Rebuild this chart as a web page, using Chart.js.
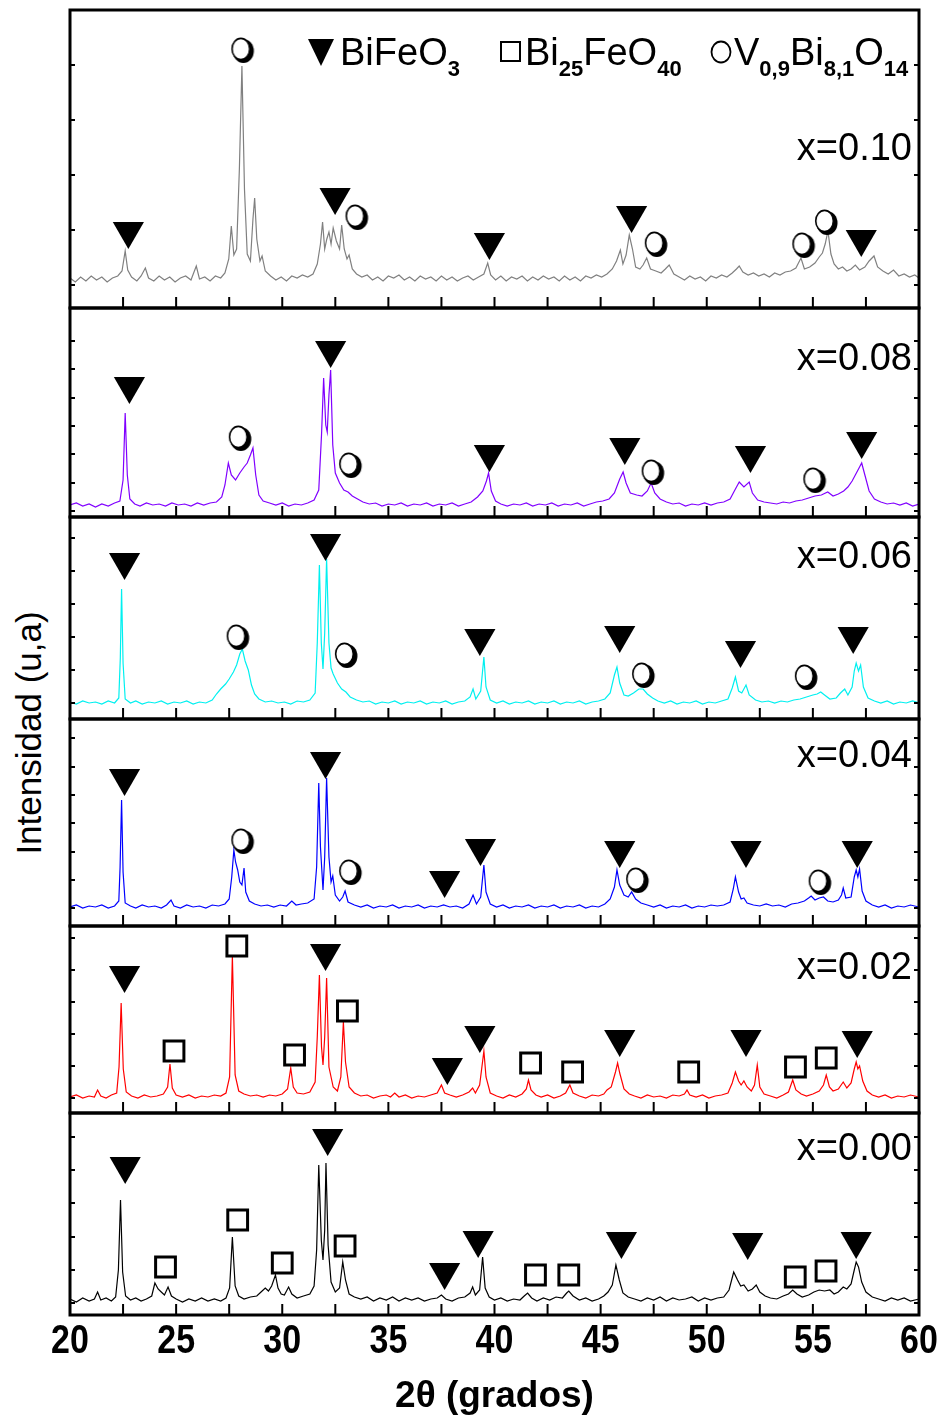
<!DOCTYPE html>
<html>
<head>
<meta charset="utf-8">
<script src="https://cdn.jsdelivr.net/npm/chart.js@4.4.1/dist/chart.umd.min.js"></script>
<style>
  body { margin: 0; background: #fff; }
  #fig { position: relative; width: 947px; height: 1418px; overflow: hidden; background: #fff; }
  #fig canvas { position: absolute; }
  #ylab {
    position: absolute; left: 29px; top: 733px;
    transform: translate(-50%, -50%) rotate(-90deg);
    font: 35px "Liberation Sans", Arial, sans-serif; color: #000; white-space: nowrap;
  }
</style>
</head>
<body>
<div id="fig"><div id="ylab">Intensidad (u,a)</div></div>
<script>
// ============================================
// XRD patterns of BiFe(1-x)VxO3, stacked panels
// intensity = counts above background (u.a.)
// ============================================

const sampleNames = ['x=0.10', 'x=0.08', 'x=0.06', 'x=0.04', 'x=0.02', 'x=0.00'];
const xTickLabels = [20, 25, 30, 35, 40, 45, 50, 55, 60];
const xTickMarks = [22.5, 25, 27.5, 30, 32.5, 35, 37.5, 40, 42.5, 45, 47.5, 50, 52.5, 55, 57.5];

// [2theta, intensity]
const scan010 = [[20.0,1],[20.25,-3],[20.5,2],[20.75,-2],[21.0,3],[21.25,-1],[21.5,2],[21.75,-3],[22.0,1],[22.25,3],[22.45,8],[22.6,28],[22.72,9],[22.9,2],[23.15,-2],[23.35,3],[23.55,11],[23.7,1],[23.95,-2],[24.2,3],[24.45,-1],[24.7,2],[24.95,-3],[25.2,1],[25.45,3],[25.7,-1],[25.95,13],[26.1,0],[26.35,2],[26.6,-2],[26.85,3],[27.1,1],[27.3,6],[27.48,20],[27.6,53],[27.72,24],[27.85,30],[27.98,110],[28.1,213],[28.22,90],[28.35,25],[28.5,18],[28.62,60],[28.7,81],[28.8,40],[28.95,18],[29.05,23],[29.2,8],[29.45,3],[29.7,-1],[29.95,2],[30.2,-2],[30.45,3],[30.7,1],[30.95,4],[31.2,2],[31.45,5],[31.65,15],[31.8,35],[31.9,57],[32.0,30],[32.1,40],[32.2,47],[32.3,35],[32.4,51],[32.55,38],[32.7,30],[32.8,54],[32.92,30],[33.05,20],[33.15,24],[33.3,10],[33.5,5],[33.75,2],[34.0,4],[34.25,-1],[34.5,2],[34.75,-2],[35.0,3],[35.25,1],[35.5,4],[35.75,-1],[36.0,2],[36.25,-2],[36.5,3],[36.75,0],[37.0,2],[37.25,-2],[37.5,3],[37.75,-1],[38.0,2],[38.25,-2],[38.5,1],[38.75,3],[39.0,-1],[39.25,2],[39.5,5],[39.68,16],[39.82,4],[40.05,-1],[40.3,3],[40.55,-2],[40.8,2],[41.05,0],[41.3,3],[41.55,-2],[41.8,2],[42.05,-1],[42.3,3],[42.55,0],[42.8,2],[43.05,-2],[43.3,3],[43.55,-1],[43.8,2],[44.05,-2],[44.3,3],[44.55,1],[44.8,4],[45.05,2],[45.3,5],[45.55,10],[45.75,18],[45.93,29],[46.05,15],[46.2,24],[46.35,44],[46.5,30],[46.65,12],[46.85,10],[47.0,14],[47.17,21],[47.35,10],[47.6,8],[47.85,6],[48.05,10],[48.23,14],[48.45,5],[48.7,2],[48.95,-1],[49.2,3],[49.45,0],[49.7,2],[49.95,-2],[50.2,3],[50.45,1],[50.7,4],[50.95,2],[51.2,6],[51.4,10],[51.53,13],[51.7,7],[51.95,4],[52.2,6],[52.45,3],[52.7,5],[52.95,2],[53.2,6],[53.45,4],[53.7,7],[53.95,8],[54.2,11],[54.44,21],[54.6,10],[54.85,12],[55.1,16],[55.3,22],[55.45,26],[55.58,35],[55.71,48],[55.85,25],[56.0,15],[56.2,10],[56.4,12],[56.6,8],[56.8,10],[57.0,14],[57.2,9],[57.45,12],[57.65,18],[57.88,23],[58.05,12],[58.3,8],[58.55,5],[58.8,9],[59.05,3],[59.3,5],[59.55,2],[59.8,4],[60.0,1]];

const scan008 = [[20.0,0],[20.3,2],[20.6,-1],[20.9,1],[21.2,-2],[21.5,1],[21.8,-1],[22.1,2],[22.35,4],[22.5,25],[22.6,92],[22.7,30],[22.82,6],[23.05,1],[23.3,-1],[23.6,2],[23.9,0],[24.2,1],[24.5,-1],[24.8,2],[25.1,0],[25.4,1],[25.7,-1],[26.0,2],[26.3,0],[26.6,2],[26.9,3],[27.15,8],[27.3,20],[27.46,42],[27.6,30],[27.8,25],[28.0,32],[28.2,38],[28.35,42],[28.5,50],[28.62,57],[28.75,30],[28.9,10],[29.1,4],[29.4,2],[29.7,0],[30.0,2],[30.3,-1],[30.6,1],[30.9,0],[31.2,2],[31.5,5],[31.72,15],[31.85,70],[31.95,127],[32.05,80],[32.12,73],[32.2,110],[32.28,135],[32.38,60],[32.5,32],[32.7,22],[32.9,15],[33.1,13],[33.3,9],[33.55,6],[33.8,3],[34.1,1],[34.4,2],[34.7,-1],[35.0,1],[35.3,0],[35.6,2],[35.9,-1],[36.2,1],[36.5,0],[36.8,2],[37.1,-1],[37.4,1],[37.7,0],[38.0,2],[38.3,-1],[38.6,1],[38.9,3],[39.2,8],[39.45,14],[39.62,24],[39.72,32],[39.85,14],[40.05,4],[40.3,1],[40.6,-1],[40.9,1],[41.2,0],[41.5,2],[41.8,-1],[42.1,1],[42.4,0],[42.7,2],[43.0,-1],[43.3,1],[43.6,0],[43.9,2],[44.2,-1],[44.5,1],[44.8,3],[45.1,4],[45.4,6],[45.65,12],[45.9,26],[46.06,33],[46.2,22],[46.4,12],[46.7,10],[46.95,9],[47.2,14],[47.38,22],[47.55,12],[47.8,6],[48.1,3],[48.4,1],[48.7,2],[49.0,-1],[49.3,1],[49.6,0],[49.9,2],[50.2,0],[50.5,2],[50.8,3],[51.1,6],[51.3,14],[51.53,23],[51.75,18],[52.0,23],[52.15,12],[52.4,5],[52.7,3],[53.0,2],[53.3,1],[53.6,3],[53.9,2],[54.2,4],[54.5,5],[54.8,7],[55.1,9],[55.4,10],[55.7,13],[55.95,9],[56.2,11],[56.45,14],[56.65,18],[56.85,24],[57.05,32],[57.2,38],[57.3,42],[57.45,30],[57.65,14],[57.9,6],[58.2,3],[58.5,1],[58.8,2],[59.1,0],[59.4,2],[59.7,-1],[60.0,1]];

const scan006 = [[20.0,1],[20.3,-1],[20.6,2],[20.9,0],[21.2,1],[21.5,-1],[21.8,2],[22.1,0],[22.3,5],[22.37,45],[22.43,114],[22.5,40],[22.6,4],[22.85,0],[23.1,2],[23.4,-1],[23.7,1],[24.0,0],[24.3,2],[24.6,-1],[24.9,1],[25.2,0],[25.5,2],[25.8,-1],[26.1,1],[26.4,0],[26.7,3],[26.9,9],[27.1,14],[27.33,19],[27.5,24],[27.7,31],[27.85,38],[28.0,49],[28.12,54],[28.25,42],[28.4,33],[28.55,18],[28.7,9],[28.9,4],[29.2,1],[29.5,2],[29.8,0],[30.1,1],[30.4,-1],[30.7,2],[31.0,1],[31.3,3],[31.55,10],[31.65,60],[31.75,138],[31.84,60],[31.92,34],[32.0,70],[32.09,144],[32.2,60],[32.3,35],[32.4,29],[32.6,20],[32.8,14],[33.0,11],[33.2,6],[33.5,3],[33.8,1],[34.1,2],[34.4,-1],[34.7,1],[35.0,0],[35.3,2],[35.6,-1],[35.9,1],[36.2,0],[36.5,2],[36.8,-1],[37.1,1],[37.4,0],[37.7,2],[38.0,-1],[38.3,1],[38.6,2],[38.85,6],[38.99,14],[39.12,4],[39.35,12],[39.5,46],[39.6,16],[39.8,3],[40.1,0],[40.4,2],[40.7,-1],[41.0,1],[41.3,0],[41.6,2],[41.9,-1],[42.2,1],[42.5,0],[42.8,2],[43.1,-1],[43.4,1],[43.7,0],[44.0,2],[44.3,-1],[44.6,1],[44.9,2],[45.2,4],[45.45,10],[45.65,28],[45.77,36],[45.9,20],[46.1,8],[46.3,7],[46.55,10],[46.8,14],[47.0,14],[47.2,9],[47.45,5],[47.7,2],[48.0,0],[48.3,2],[48.6,-1],[48.9,1],[49.2,0],[49.5,2],[49.8,-1],[50.1,1],[50.4,0],[50.7,2],[51.0,4],[51.2,15],[51.35,26],[51.5,12],[51.65,10],[51.85,18],[52.0,8],[52.3,3],[52.6,1],[52.9,2],[53.2,0],[53.5,2],[53.8,1],[54.1,3],[54.4,4],[54.7,6],[55.0,8],[55.2,9],[55.37,11],[55.55,8],[55.8,4],[56.1,5],[56.3,10],[56.5,14],[56.65,8],[56.85,16],[56.95,32],[57.04,40],[57.15,32],[57.25,38],[57.38,16],[57.6,5],[57.9,2],[58.2,0],[58.5,2],[58.8,-1],[59.1,1],[59.4,0],[59.7,2],[60.0,0]];

const scan004 = [[20.0,0],[20.3,2],[20.6,-1],[20.9,1],[21.2,0],[21.5,2],[21.8,-1],[22.1,1],[22.3,6],[22.36,40],[22.43,107],[22.5,35],[22.6,4],[22.85,1],[23.1,-1],[23.4,2],[23.7,0],[24.0,1],[24.3,-1],[24.55,2],[24.76,7],[24.9,1],[25.2,-1],[25.5,2],[25.8,0],[26.1,1],[26.4,-1],[26.7,2],[27.0,1],[27.3,3],[27.5,8],[27.62,30],[27.72,57],[27.8,45],[27.9,37],[28.0,25],[28.1,22],[28.2,39],[28.28,15],[28.45,6],[28.7,3],[29.0,1],[29.3,2],[29.6,0],[29.9,2],[30.2,1],[30.45,6],[30.65,2],[30.9,3],[31.2,4],[31.5,8],[31.62,40],[31.72,124],[31.8,60],[31.92,17],[32.0,50],[32.09,129],[32.2,50],[32.3,25],[32.38,31],[32.5,12],[32.7,6],[32.85,10],[32.96,16],[33.1,5],[33.4,2],[33.7,0],[34.0,2],[34.3,-1],[34.6,1],[34.9,0],[35.2,2],[35.5,-1],[35.8,1],[36.1,0],[36.4,2],[36.7,-1],[37.0,1],[37.3,0],[37.6,2],[37.9,0],[38.2,1],[38.5,-1],[38.8,3],[38.99,12],[39.15,3],[39.35,10],[39.5,42],[39.6,15],[39.8,3],[40.1,0],[40.4,2],[40.7,-1],[41.0,1],[41.3,0],[41.6,2],[41.9,-1],[42.2,1],[42.5,0],[42.8,2],[43.1,-1],[43.4,1],[43.7,0],[44.0,2],[44.3,-1],[44.6,1],[44.9,0],[45.2,3],[45.45,8],[45.65,20],[45.77,37],[45.9,22],[46.1,12],[46.3,10],[46.46,15],[46.65,8],[46.9,4],[47.2,2],[47.5,0],[47.8,2],[48.1,-1],[48.4,1],[48.7,0],[49.0,2],[49.3,-1],[49.6,1],[49.9,0],[50.2,2],[50.5,1],[50.8,2],[51.1,5],[51.25,18],[51.35,30],[51.5,15],[51.62,8],[51.75,9],[51.9,4],[52.2,2],[52.5,1],[52.8,3],[53.1,1],[53.4,2],[53.7,0],[54.0,3],[54.3,4],[54.6,6],[54.8,9],[54.92,11],[55.1,7],[55.3,9],[55.5,10],[55.7,6],[55.95,5],[56.2,7],[56.35,12],[56.43,19],[56.55,9],[56.8,10],[56.95,30],[57.04,37],[57.12,30],[57.2,38],[57.32,16],[57.5,6],[57.8,2],[58.1,0],[58.4,2],[58.7,-1],[59.0,1],[59.3,0],[59.6,2],[60.0,0]];

const scan002 = [[20.0,0],[20.3,2],[20.6,-1],[20.9,1],[21.15,0],[21.3,7],[21.45,1],[21.7,-1],[21.95,2],[22.2,4],[22.31,30],[22.41,94],[22.51,28],[22.65,5],[22.9,1],[23.2,-1],[23.5,2],[23.8,0],[24.1,1],[24.4,3],[24.6,10],[24.71,33],[24.82,9],[25.0,2],[25.3,0],[25.6,2],[25.9,-1],[26.2,1],[26.5,0],[26.8,2],[27.1,1],[27.35,4],[27.52,20],[27.65,141],[27.78,22],[27.95,6],[28.2,3],[28.5,1],[28.8,2],[29.1,0],[29.4,2],[29.7,1],[30.0,3],[30.25,8],[30.4,29],[30.52,10],[30.7,4],[31.0,3],[31.3,5],[31.55,15],[31.65,60],[31.75,122],[31.85,50],[31.92,32],[32.0,60],[32.09,119],[32.2,30],[32.4,10],[32.6,6],[32.76,20],[32.88,75],[32.98,35],[33.15,10],[33.4,4],[33.7,1],[34.0,2],[34.3,-1],[34.6,1],[34.9,2],[35.1,0],[35.3,4],[35.5,0],[35.8,2],[36.1,-1],[36.4,1],[36.7,0],[37.0,2],[37.3,4],[37.5,12],[37.65,4],[37.9,2],[38.2,0],[38.5,2],[38.8,5],[38.97,9],[39.1,4],[39.3,12],[39.5,46],[39.6,20],[39.8,4],[40.1,1],[40.4,-1],[40.7,2],[41.0,0],[41.3,3],[41.5,8],[41.6,17],[41.72,7],[41.95,2],[42.2,0],[42.5,2],[42.8,-1],[43.1,1],[43.35,4],[43.55,12],[43.7,4],[44.0,1],[44.3,-1],[44.6,2],[44.9,1],[45.15,3],[45.3,7],[45.5,10],[45.7,25],[45.8,34],[45.9,24],[46.1,8],[46.35,3],[46.6,1],[46.9,-1],[47.2,2],[47.5,0],[47.8,1],[48.1,-1],[48.4,2],[48.7,1],[48.95,3],[49.07,7],[49.2,2],[49.5,0],[49.8,2],[50.1,-1],[50.4,1],[50.7,2],[51.0,4],[51.2,14],[51.35,25],[51.5,16],[51.62,12],[51.75,16],[51.9,10],[52.1,6],[52.25,12],[52.38,32],[52.5,10],[52.7,3],[53.0,1],[53.3,-1],[53.6,2],[53.85,5],[54.05,17],[54.2,7],[54.45,3],[54.7,1],[55.0,3],[55.3,6],[55.5,12],[55.63,22],[55.78,10],[55.95,6],[56.2,8],[56.43,15],[56.6,9],[56.8,14],[56.95,28],[57.04,35],[57.12,28],[57.2,31],[57.35,16],[57.55,6],[57.8,2],[58.1,0],[58.4,2],[58.7,-1],[59.0,1],[59.3,0],[59.6,2],[60.0,0]];

const scan000 = [[20.0,1],[20.3,-2],[20.6,2],[20.9,-1],[21.15,1],[21.3,8],[21.45,0],[21.7,2],[21.95,-1],[22.15,3],[22.28,30],[22.38,100],[22.48,28],[22.62,4],[22.85,0],[23.1,2],[23.35,-1],[23.6,1],[23.85,4],[24.0,17],[24.15,11],[24.3,8],[24.45,5],[24.62,13],[24.78,4],[25.0,1],[25.3,-2],[25.6,1],[25.9,-1],[26.2,2],[26.5,-1],[26.8,1],[27.1,-1],[27.35,2],[27.52,12],[27.65,63],[27.78,14],[27.95,4],[28.2,1],[28.5,3],[28.8,4],[29.0,8],[29.2,12],[29.35,9],[29.5,14],[29.68,25],[29.8,12],[29.95,6],[30.1,5],[30.3,13],[30.45,6],[30.7,2],[31.0,4],[31.3,6],[31.5,14],[31.62,50],[31.72,135],[31.84,60],[31.92,40],[32.0,70],[32.06,137],[32.16,55],[32.3,18],[32.5,8],[32.7,12],[32.85,38],[32.98,20],[33.15,6],[33.4,3],[33.7,1],[34.0,3],[34.3,-1],[34.6,2],[34.9,0],[35.2,3],[35.5,-1],[35.8,2],[36.1,0],[36.4,2],[36.7,-1],[37.0,1],[37.3,2],[37.5,5],[37.7,1],[38.0,-1],[38.3,2],[38.6,3],[38.85,7],[38.97,13],[39.1,5],[39.3,10],[39.44,43],[39.56,12],[39.75,3],[40.0,0],[40.3,2],[40.6,-1],[40.9,1],[41.2,0],[41.4,4],[41.56,7],[41.75,2],[42.0,-1],[42.3,2],[42.6,0],[42.9,3],[43.2,2],[43.4,7],[43.5,9],[43.7,4],[44.0,0],[44.3,2],[44.6,-1],[44.9,1],[45.15,4],[45.35,8],[45.55,15],[45.72,35],[45.88,20],[46.05,7],[46.3,3],[46.6,1],[46.9,-1],[47.2,2],[47.5,0],[47.8,3],[48.1,-1],[48.4,2],[48.7,0],[49.0,1],[49.3,3],[49.6,-1],[49.9,2],[50.2,0],[50.5,2],[50.8,3],[51.05,10],[51.27,28],[51.45,20],[51.6,14],[51.75,15],[51.95,9],[52.15,11],[52.33,15],[52.5,8],[52.75,4],[53.0,2],[53.3,1],[53.6,4],[53.85,6],[54.05,10],[54.25,6],[54.5,3],[54.8,5],[55.05,8],[55.3,10],[55.55,9],[55.8,10],[56.0,6],[56.2,8],[56.43,13],[56.6,11],[56.8,16],[56.95,30],[57.04,38],[57.15,33],[57.3,18],[57.5,8],[57.8,3],[58.1,1],[58.4,-1],[58.7,2],[59.0,0],[59.3,2],[59.6,-1],[60.0,1]];

// phase markers: [2theta, height of the marker centre]
const bfo010 = [[22.75,48],[32.49,82],[39.76,37],[46.46,64],[57.28,40]];
const vbo010 = [[28.12,229],[33.5,62],[47.6,35],[54.55,34],[55.62,57]];
const bfo008 = [[22.8,119],[32.28,155],[39.76,51],[46.14,58],[52.06,50],[57.3,64]];
const vbo008 = [[28.0,67],[33.2,40],[47.45,33],[55.07,25]];
const bfo006 = [[22.57,141],[32.04,160],[39.31,65],[45.9,68],[51.59,53],[56.9,67]];
const vbo006 = [[27.9,66],[33.0,48],[47.0,28],[54.67,26]];
const bfo004 = [[22.57,129],[32.04,146],[37.65,27],[39.34,59],[45.9,57],[51.85,57],[57.09,57]];
const vbo004 = [[28.12,66],[33.2,35],[46.72,27],[55.32,25]];
const bfo002 = [[22.57,122],[32.04,144],[37.78,30],[39.31,62],[45.9,58],[51.85,58],[57.09,57]];
const sil002 = [[24.9,46],[27.86,151],[30.58,42],[33.07,86],[41.7,34],[43.68,25],[49.15,25],[54.18,30],[55.63,39]];
const bfo000 = [[22.6,134],[32.14,162],[37.65,28],[39.23,60],[45.98,59],[51.93,58],[57.04,59]];
const sil000 = [[24.5,33],[27.9,80],[30.0,37],[32.96,54],[41.93,25],[43.5,25],[54.17,23],[55.62,29]];

// inner tick positions on the intensity axis of each panel
const yTicks010 = [-6, 49, 104, 159, 214];
const yTicks008 = [-6, 22, 51, 79, 107, 136, 164];
const yTicks006 = [0, 33, 66, 99, 132, 165];
const yTicks004 = [-1, 27, 55, 84, 112, 140, 169];
const yTicks002 = [-1, 31, 63, 95, 127, 159];
const yTicks000 = [-3, 30, 63, 97, 130, 163];

// legend: phase formulas, [text, isSubscript]
const phaseBFO = [['BiFeO', 0], ['3', 1]];
const phaseSil = [['Bi', 0], ['25', 1], ['FeO', 0], ['40', 1]];
const phaseVBO = [['V', 0], ['0,9', 1], ['Bi', 0], ['8,1', 1], ['O', 0], ['14', 1]];

const FONT = '"Liberation Sans", Arial, sans-serif';
const PLOT_LEFT = 70, PLOT_W = 849, PAD_X = 30, PAD_Y = 12;

// panel geometry (page px): top/bottom edge and background line
const panels = [
  { name: sampleNames[0], color: '#808080', scan: scan010, tri: bfo010, sq: [],     circ: vbo010, yTicks: yTicks010, top: 10,   bottom: 308,  base: 279,  labelY: 150, legend: true },
  { name: sampleNames[1], color: '#8000ff', scan: scan008, tri: bfo008, sq: [],     circ: vbo008, yTicks: yTicks008, top: 308,  bottom: 517,  base: 505,  labelY: 62 },
  { name: sampleNames[2], color: '#00f0f0', scan: scan006, tri: bfo006, sq: [],     circ: vbo006, yTicks: yTicks006, top: 517,  bottom: 719,  base: 703,  labelY: 51 },
  { name: sampleNames[3], color: '#0000ff', scan: scan004, tri: bfo004, sq: [],     circ: vbo004, yTicks: yTicks004, top: 719,  bottom: 926,  base: 907,  labelY: 48 },
  { name: sampleNames[4], color: '#ff0000', scan: scan002, tri: bfo002, sq: sil002, circ: [],     yTicks: yTicks002, top: 926,  bottom: 1113, base: 1097, labelY: 53 },
  { name: sampleNames[5], color: '#000000', scan: scan000, tri: bfo000, sq: sil000, circ: [],     yTicks: yTicks000, top: 1113, bottom: 1315, base: 1300, labelY: 47 },
];

// shadowed open circle used for the V0.9Bi8.1O14 marks
function shadowCircle() {
  const c = document.createElement('canvas');
  c.width = 26; c.height = 28;
  const g = c.getContext('2d');
  g.fillStyle = '#000';
  g.beginPath(); g.ellipse(14, 15, 10.5, 12, 0, 0, Math.PI * 2); g.fill();
  g.fillStyle = '#fff';
  g.beginPath(); g.ellipse(11.5, 13, 8.8, 10.6, 0, 0, Math.PI * 2); g.fill();
  g.lineWidth = 1.6; g.strokeStyle = '#000'; g.stroke();
  return c;
}
const circleMark = shadowCircle();

function markerSet(points, kind) {
  const base = { data: points.map(([x, y]) => ({ x, y })), showLine: false, order: 1, pointBorderColor: '#000' };
  if (kind === 'tri') return { ...base, pointStyle: 'triangle', rotation: 180, pointRadius: 18, pointBackgroundColor: '#000', pointBorderWidth: 0 };
  if (kind === 'sq') return { ...base, pointStyle: 'rect', pointRadius: 14, pointBackgroundColor: '#fff', pointBorderWidth: 3 };
  return { ...base, pointStyle: circleMark, pointRadius: 12, pointBorderWidth: 0 };
}

function drawFormula(ctx, parts, x, baseline) {
  parts.forEach(([txt, sub]) => {
    ctx.font = sub ? 'bold 22px ' + FONT : '38px ' + FONT;
    ctx.fillText(txt, x, baseline + (sub ? 11 : 0));
    x += ctx.measureText(txt).width;
  });
}

function drawPhaseLegend(ctx, a) {
  const by = a.top + 55;
  const sx = [a.left + 238, a.left + 430, a.left + 640];
  ctx.fillStyle = '#000';
  ctx.strokeStyle = '#000';
  // triangle
  ctx.beginPath();
  ctx.moveTo(sx[0], by - 26); ctx.lineTo(sx[0] + 26, by - 26); ctx.lineTo(sx[0] + 13, by + 1);
  ctx.closePath(); ctx.fill();
  drawFormula(ctx, phaseBFO, sx[0] + 32, by);
  // square
  ctx.lineWidth = 2;
  ctx.strokeRect(sx[1] + 1, by - 23, 19, 19);
  drawFormula(ctx, phaseSil, sx[1] + 25, by);
  // circle
  ctx.lineWidth = 1.8;
  ctx.beginPath(); ctx.ellipse(sx[2] + 11, by - 13, 9.5, 10.5, 0, 0, Math.PI * 2); ctx.stroke();
  drawFormula(ctx, phaseVBO, sx[2] + 24, by);
}

// panel frame, inward ticks, sample name
const framePlugin = {
  id: 'frame',
  afterDatasetsDraw(chart, args, opts) {
    const { ctx, chartArea: a, scales: { x, y } } = chart;
    ctx.save();
    ctx.strokeStyle = '#000';
    ctx.lineWidth = 2;
    ctx.beginPath();
    xTickMarks.forEach(v => {
      const px = x.getPixelForValue(v);
      ctx.moveTo(px, a.bottom); ctx.lineTo(px, a.bottom - 11);
    });
    y.ticks.forEach(t => {
      const py = y.getPixelForValue(t.value);
      ctx.moveTo(a.left, py); ctx.lineTo(a.left + 5, py);
      ctx.moveTo(a.right, py); ctx.lineTo(a.right - 5, py);
    });
    ctx.stroke();
    ctx.lineWidth = 3;
    ctx.strokeRect(a.left, a.top, a.width, a.height);

    ctx.fillStyle = '#000';
    ctx.font = '38px ' + FONT;
    ctx.textAlign = 'right';
    ctx.textBaseline = 'alphabetic';
    ctx.fillText(opts.name, a.right - 7, a.top + opts.labelY);
    ctx.textAlign = 'left';
    if (opts.legend) drawPhaseLegend(ctx, a);

    // condensed bold tick labels under the bottom panel
    if (opts.tickLabels) {
      ctx.font = 'bold 40px ' + FONT;
      ctx.textAlign = 'center';
      x.ticks.forEach(t => {
        ctx.save();
        ctx.translate(x.getPixelForValue(t.value), a.bottom + 38);
        ctx.scale(0.85, 1);
        ctx.fillText(String(t.value), 0, 0);
        ctx.restore();
      });
    }
    ctx.restore();
  }
};

const fig = document.getElementById('fig');

panels.forEach((p, i) => {
  const last = i === panels.length - 1;
  const canvas = document.createElement('canvas');
  const cTop = p.top - PAD_Y;
  canvas.width = PLOT_W + 2 * PAD_X;
  canvas.height = last ? 1418 - cTop : (p.bottom - p.top) + 2 * PAD_Y;
  canvas.style.left = (PLOT_LEFT - PAD_X) + 'px';
  canvas.style.top = cTop + 'px';
  fig.appendChild(canvas);

  new Chart(canvas, {
    type: 'line',
    data: {
      datasets: [
        markerSet(p.tri, 'tri'),
        markerSet(p.sq, 'sq'),
        markerSet(p.circ, 'circ'),
        {
          data: p.scan.map(([x, y]) => ({ x, y })),
          borderColor: p.color, borderWidth: 1.2,
          pointRadius: 0, tension: 0, order: 2,
        },
      ],
    },
    options: {
      responsive: false, animation: false, devicePixelRatio: 1,
      layout: { autoPadding: false, padding: { left: PAD_X, right: PAD_X, top: PAD_Y, bottom: last ? 0 : PAD_Y } },
      plugins: {
        legend: { display: false },
        tooltip: { enabled: false },
        frame: { name: p.name, labelY: p.labelY, legend: !!p.legend, tickLabels: last },
      },
      scales: {
        x: {
          type: 'linear', min: 20, max: 60,
          display: last,
          grid: { display: false, drawTicks: false },
          border: { display: false },
          afterBuildTicks: s => { s.ticks = xTickLabels.map(v => ({ value: v })); },
          afterFit: s => { if (last) s.height = 1418 - p.bottom; },
          ticks: { display: false },
          title: {
            display: true, text: '2θ (grados)', color: '#000',
            padding: { top: 0, bottom: 3 },
            font: { family: FONT, size: 37, weight: 'bold', lineHeight: 1 },
          },
        },
        y: {
          type: 'linear',
          min: p.base - p.bottom, max: p.base - p.top,
          display: false,
          afterBuildTicks: s => { s.ticks = p.yTicks.map(v => ({ value: v })); },
        },
      },
    },
    plugins: [framePlugin],
  });
});
</script>
</body>
</html>
